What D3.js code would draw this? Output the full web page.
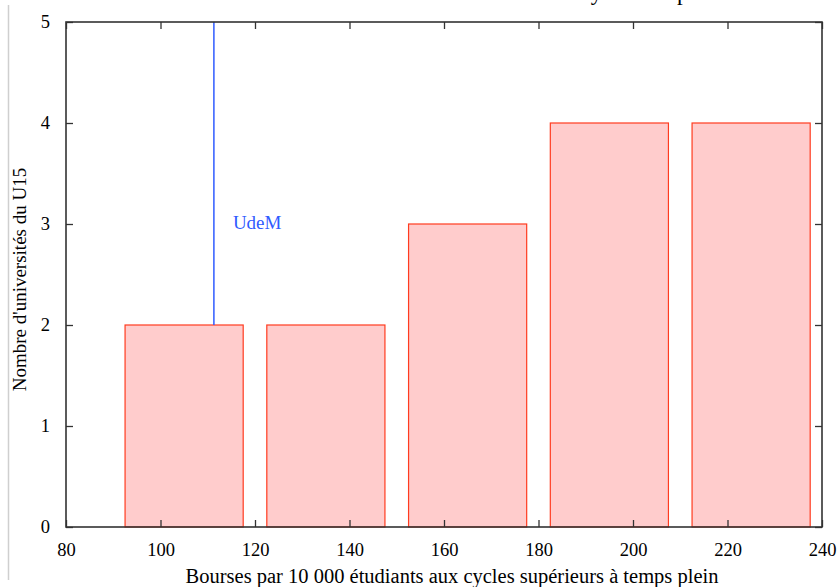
<!DOCTYPE html>
<html>
<head>
<meta charset="utf-8">
<script src="https://cdn.jsdelivr.net/npm/d3@7"></script>
<style>
  body { margin: 0; background: #fff; }
  text { font-family: "Liberation Serif", "Times New Roman", serif; }
</style>
</head>
<body>
<div id="chart"></div>
<script>
// data
var binCenters = [105, 135, 165, 195, 225];
var binCounts = [2, 2, 3, 4, 4];
var binWidth = 25;
var xTicks = [80, 100, 120, 140, 160, 180, 200, 220, 240];
var yTicks = [0, 1, 2, 3, 4, 5];
var udemValue = 111.3;

var W = 840, H = 587;
var margin = { top: 22, right: 18, bottom: 60, left: 66 };
var width = W - margin.left - margin.right,
    height = H - margin.top - margin.bottom;

var root = d3.select("#chart")
    .append("svg")
    .attr("width", W)
    .attr("height", H);

// faint page edge line
root.append("line")
    .attr("x1", 8.5).attr("x2", 8.5)
    .attr("y1", 5).attr("y2", 580)
    .style("stroke", "#cfcfcf")
    .style("stroke-width", 1.5);

// title (mostly cut off above the frame)
root.append("text")
    .attr("x", 546)
    .attr("y", 0)
    .style("font-size", "23px")
    .text("Analyse de la performance");

var svg = root.append("g")
    .attr("transform", "translate(" + margin.left + "," + margin.top + ")");

var x = d3.scaleLinear().domain([80, 240]).range([0, width]);
var y = d3.scaleLinear().domain([0, 5]).range([height, 0]);

// bars
svg.selectAll("rect.bar")
    .data(binCenters)
    .enter()
    .append("rect")
    .attr("class", "bar")
    .attr("x", function (d) { return x(d - binWidth / 2); })
    .attr("y", function (d, i) { return y(binCounts[i]); })
    .attr("width", function (d) { return x(d + binWidth / 2) - x(d - binWidth / 2); })
    .attr("height", function (d, i) { return y(0) - y(binCounts[i]); })
    .style("fill", "#ffcccc")
    .style("stroke", "#ff3b1f")
    .style("stroke-width", 1.2);

// UdeM marker
var udemBin = 0;
svg.append("line")
    .attr("x1", x(udemValue)).attr("x2", x(udemValue))
    .attr("y1", y(binCounts[udemBin])).attr("y2", y(5))
    .style("stroke", "#2f5bff")
    .style("stroke-width", 1.5);

svg.append("text")
    .attr("x", x(udemValue) + 19)
    .attr("y", y(3) + 5)
    .style("fill", "#2f5bff")
    .style("font-size", "19px")
    .text("UdeM");

// axes: ticks inward, mirrored on all sides
var tickLen = 7;
var axBottom = svg.append("g")
    .attr("transform", "translate(0," + height + ")")
    .call(d3.axisBottom(x).tickValues(xTicks).tickSizeInner(-tickLen).tickSizeOuter(0).tickPadding(16));
var axTop = svg.append("g")
    .call(d3.axisTop(x).tickValues(xTicks).tickSizeInner(-tickLen).tickSizeOuter(0).tickFormat(""));
var axLeft = svg.append("g")
    .call(d3.axisLeft(y).tickValues(yTicks).tickSizeInner(-tickLen).tickSizeOuter(0)
        .tickFormat(d3.format("d")).tickPadding(16));
var axRight = svg.append("g")
    .attr("transform", "translate(" + width + ",0)")
    .call(d3.axisRight(y).tickValues(yTicks).tickSizeInner(-tickLen).tickSizeOuter(0).tickFormat(""));

[axBottom, axTop, axLeft, axRight].forEach(function (a) {
    a.attr("font-family", null);
    a.select(".domain").remove();
    a.selectAll(".tick line").style("stroke", "#333").style("stroke-width", 1.3);
    a.selectAll(".tick text")
        .style("font-family", "Liberation Serif, Times New Roman, serif")
        .style("font-size", "18.5px")
        .style("fill", "#000");
});

// frame
svg.append("rect")
    .attr("x", 0).attr("y", 0)
    .attr("width", width).attr("height", height)
    .style("fill", "none")
    .style("stroke", "#333")
    .style("stroke-width", 1.6);

// axis titles
svg.append("text")
    .attr("x", x(160) + 8)
    .attr("y", height + 56)
    .attr("text-anchor", "middle")
    .style("font-size", "20.5px")
    .text("Bourses par 10 000 étudiants aux cycles supérieurs à temps plein");

svg.append("text")
    .attr("transform", "translate(" + (-40) + "," + (y(2.45)) + ") rotate(-90)")
    .attr("text-anchor", "middle")
    .style("font-size", "19px")
    .text("Nombre d'universités du U15");
</script>
</body>
</html>
